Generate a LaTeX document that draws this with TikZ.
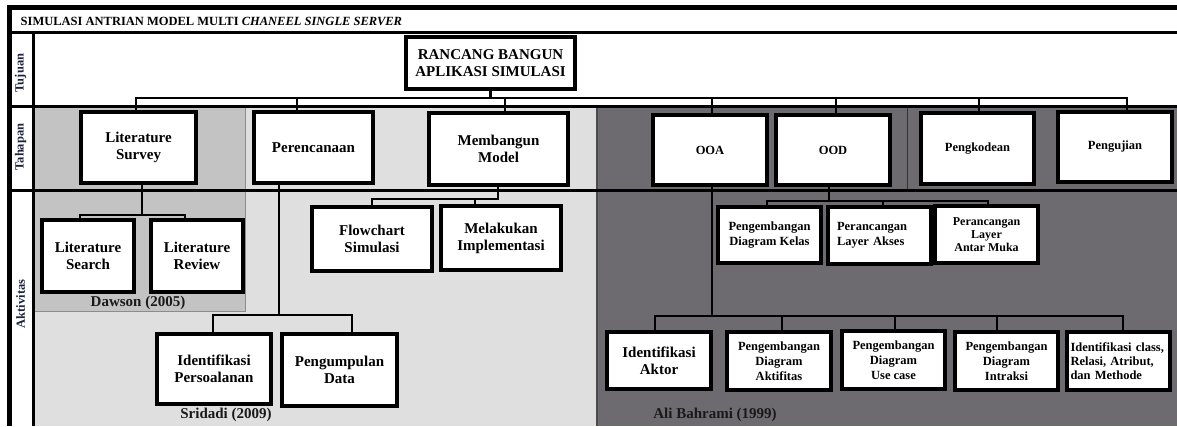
\documentclass[tikz,border=0pt]{standalone}
\usepackage{fontspec}
\setmainfont{Liberation Serif}
\definecolor{midg}{HTML}{C3C3C3}
\definecolor{lightg}{HTML}{DFDFDF}
\definecolor{darkg}{HTML}{6E6B70}
\definecolor{navy}{HTML}{1C2340}
\tikzset{
  box/.style={draw=black, line width=2.6pt, fill=white, inner sep=0pt, align=center,
    font=\bfseries\fontsize{15}{17}\selectfont},
  sbox/.style={box, font=\bfseries\fontsize{12.5}{15}\selectfont},
  conn/.style={line width=2.8pt, black, line cap=rect, line join=miter},
  sepline/.style={line width=3pt, black},
  lab/.style={font=\bfseries\fontsize{12.5}{15}\selectfont, text=navy, rotate=90, inner sep=0pt},
  citetext/.style={font=\bfseries\fontsize{15}{17}\selectfont, text=black!90, inner sep=0pt},
}
\begin{document}
\begin{tikzpicture}[x=1pt,y=-1pt]
\useasboundingbox (0,0) rectangle (1177,426);
% backgrounds
\fill[white] (0,0) rectangle (1177,426);
\fill[midg] (33,106) rectangle (245,311);
\fill[lightg] (245,106) rectangle (597,426);
\fill[lightg] (33,311) rectangle (245,426);
\fill[darkg] (597,106) rectangle (1177,426);
\draw[black!45, line width=0.9pt] (245,106) -- (245,311) -- (33,311);
\draw[black!70, line width=1.2pt] (597,106) -- (597,426);
\draw[black!80, line width=1pt] (907,106) -- (907,191);
% frame and separators
\draw[line width=5pt] (7,7.5) -- (1177,7.5);
\draw[line width=5pt] (9.5,5) -- (9.5,426);
\draw[sepline] (9,32) -- (1177,32);
\draw[sepline] (9,106.5) -- (1177,106.5);
\draw[sepline] (9,190.5) -- (1177,190.5);
\draw[sepline] (33,32) -- (33,426);
% title and row labels
\node[anchor=west, inner sep=0pt, font=\bfseries\fontsize{12.5}{15}\selectfont] (title) at (20.5,21)
  {SIMULASI ANTRIAN MODEL MULTI \textit{CHANEEL SINGLE SERVER}};
\node[lab] (tuj) at (20.5,73) {Tujuan};
\node[lab] (tah) at (20.5,147) {Tahapan};
\node[lab] (akt) at (20.5,304) {Aktivitas};
% bus coordinates
\coordinate (d1) at (136,98);
\coordinate (d2) at (297,98);
\coordinate (d3) at (505,98);
\coordinate (d4) at (712,98);
\coordinate (d5) at (836,98);
\coordinate (d6) at (979,98);
\coordinate (d7) at (1127,98);
\coordinate (lsv) at (142,215);
\coordinate (ls1) at (80,215);
\coordinate (ls2) at (185,215);
\coordinate (pev) at (279,315);
\coordinate (pe1) at (213,315);
\coordinate (pe2) at (352,315);
\coordinate (mmv) at (498,199);
\coordinate (mm1) at (372,199);
\coordinate (mm2) at (475,199);
\coordinate (odv) at (829,201);
\coordinate (od1) at (767,201);
\coordinate (od2) at (883,201);
\coordinate (od3) at (988,201);
\coordinate (oav) at (712,316);
\coordinate (oa1) at (655,316);
\coordinate (oa2) at (782,316);
\coordinate (oa3) at (895,316);
\coordinate (oa4) at (997,316);
\coordinate (oa5) at (1123,316);
% boxes
\path
  node[box, minimum width=167pt, minimum height=50pt] (root) at (490.5,63) {RANCANG BANGUN\\APLIKASI SIMULASI}
  node[box, minimum width=113pt, minimum height=69pt] (ls) at (138.5,147.5) {Literature\\Survey}
  node[box, minimum width=117pt, minimum height=69pt] (pere) at (313.5,147.5) {Perencanaan}
  node[box, minimum width=137pt, minimum height=70pt] (mm) at (498.5,149) {Membangun\\Model}
  node[sbox, minimum width=112pt, minimum height=68pt] (ooa) at (710,150) {OOA}
  node[sbox, minimum width=112pt, minimum height=68pt] (ood) at (833,150) {OOD}
  node[sbox, minimum width=111pt, minimum height=69pt] (pk) at (977.5,148.5) {Pengkodean}
  node[sbox, minimum width=112pt, minimum height=68pt] (pu) at (1115,147) {Pengujian}
  node[box, minimum width=90pt, minimum height=70pt] (lsearch) at (88,256) {Literature\\Search}
  node[box, minimum width=90pt, minimum height=70pt] (lreview) at (197,256) {Literature\\Review}
  node[box, minimum width=112pt, minimum height=68pt] (idp) at (214,369) {Identifikasi\\Persoalanan}
  node[box, minimum width=113pt, minimum height=70pt] (pd) at (339.5,370) {Pengumpulan\\Data}
  node[box, minimum width=118pt, minimum height=62pt] (fs) at (372,239) {Flowchart\\Simulasi}
  node[box, minimum width=118pt, minimum height=62pt] (mi) at (501,238) {Melakukan\\Implementasi}
  node[sbox, minimum width=101pt, minimum height=54pt] (kelas) at (769.5,235) {Pengembangan\\Diagram Kelas}
  node[sbox, align=left, text width=85pt, inner xsep=8pt, minimum height=55pt] (akses) at (879.5,235.5) {Perancangan\\Layer Akses}
  node[sbox, font=\bfseries\fontsize{12}{13}\selectfont, minimum width=101pt, minimum height=55pt] (antar) at (986.5,234.5) {Perancangan\\Layer\\Antar Muka}
  node[box, minimum width=102pt, minimum height=55pt] (aktor) at (659,360.5) {Identifikasi\\Aktor}
  node[sbox, minimum width=102pt, minimum height=56pt] (aktf) at (779,361) {Pengembangan\\Diagram\\Aktifitas}
  node[sbox, minimum width=101pt, minimum height=56pt] (usec) at (893.5,360) {Pengembangan\\Diagram\\Use case}
  node[sbox, minimum width=101pt, minimum height=56pt] (intr) at (1006.5,361) {Pengembangan\\Diagram\\Intraksi}
  node[sbox, font=\bfseries\fontsize{12.5}{14}\selectfont, align=left, text width=96pt, inner xsep=2.5pt, minimum height=56pt] (icl) at (1118.5,361) {Identifikasi class,\\Relasi, Atribut,\\dan Methode};
% connectors
\draw[conn] (root.south) -- (root.south |- d1);
\draw[conn] (d1 |- ls.north) -- (d1) -- (d7) -- (d7 |- pu.north);
\draw[conn] (d2) -- (d2 |- pere.north);
\draw[conn] (d3) -- (d3 |- mm.north);
\draw[conn] (d4) -- (d4 |- ooa.north);
\draw[conn] (d5) -- (d5 |- ood.north);
\draw[conn] (d6) -- (d6 |- pk.north);
\draw[conn] (lsv |- ls.south) -- (lsv);
\draw[conn] (ls1 |- lsearch.north) -- (ls1) -- (ls2) -- (ls2 |- lreview.north);
\draw[conn] (pev |- pere.south) -- (pev);
\draw[conn] (pe1 |- idp.north) -- (pe1) -- (pe2) -- (pe2 |- pd.north);
\draw[conn] (mmv |- mm.south) -- (mmv);
\draw[conn] (mm1 |- fs.north) -- (mm1) -- (mmv);
\draw[conn] (mm2) -- (mm2 |- mi.north);
\draw[conn] (odv |- ood.south) -- (odv);
\draw[conn] (od1 |- kelas.north) -- (od1) -- (od3) -- (od3 |- antar.north);
\draw[conn] (od2) -- (od2 |- akses.north);
\draw[conn] (oav |- ooa.south) -- (oav);
\draw[conn] (oa1 |- aktor.north) -- (oa1) -- (oa5) -- (oa5 |- icl.north);
\draw[conn] (oa2) -- (oa2 |- aktf.north);
\draw[conn] (oa3) -- (oa3 |- usec.north);
\draw[conn] (oa4) -- (oa4 |- intr.north);
% box borders redrawn above connectors
\foreach \n in {root,ls,pere,mm,ooa,ood,pk,pu,lsearch,lreview,idp,pd,fs,mi,kelas,akses,antar,aktor,aktf,usec,intr,icl}{
  \draw[line width=2.6pt] (\n.north west) rectangle (\n.south east);
}
% citations (on top)
\node[citetext] (daw) at (138,302.5) {Dawson (2005)};
\node[citetext] (sri) at (226,415) {Sridadi (2009)};
\node[citetext] (ali) at (715,415) {Ali Bahrami (1999)};
\end{tikzpicture}
\end{document}
